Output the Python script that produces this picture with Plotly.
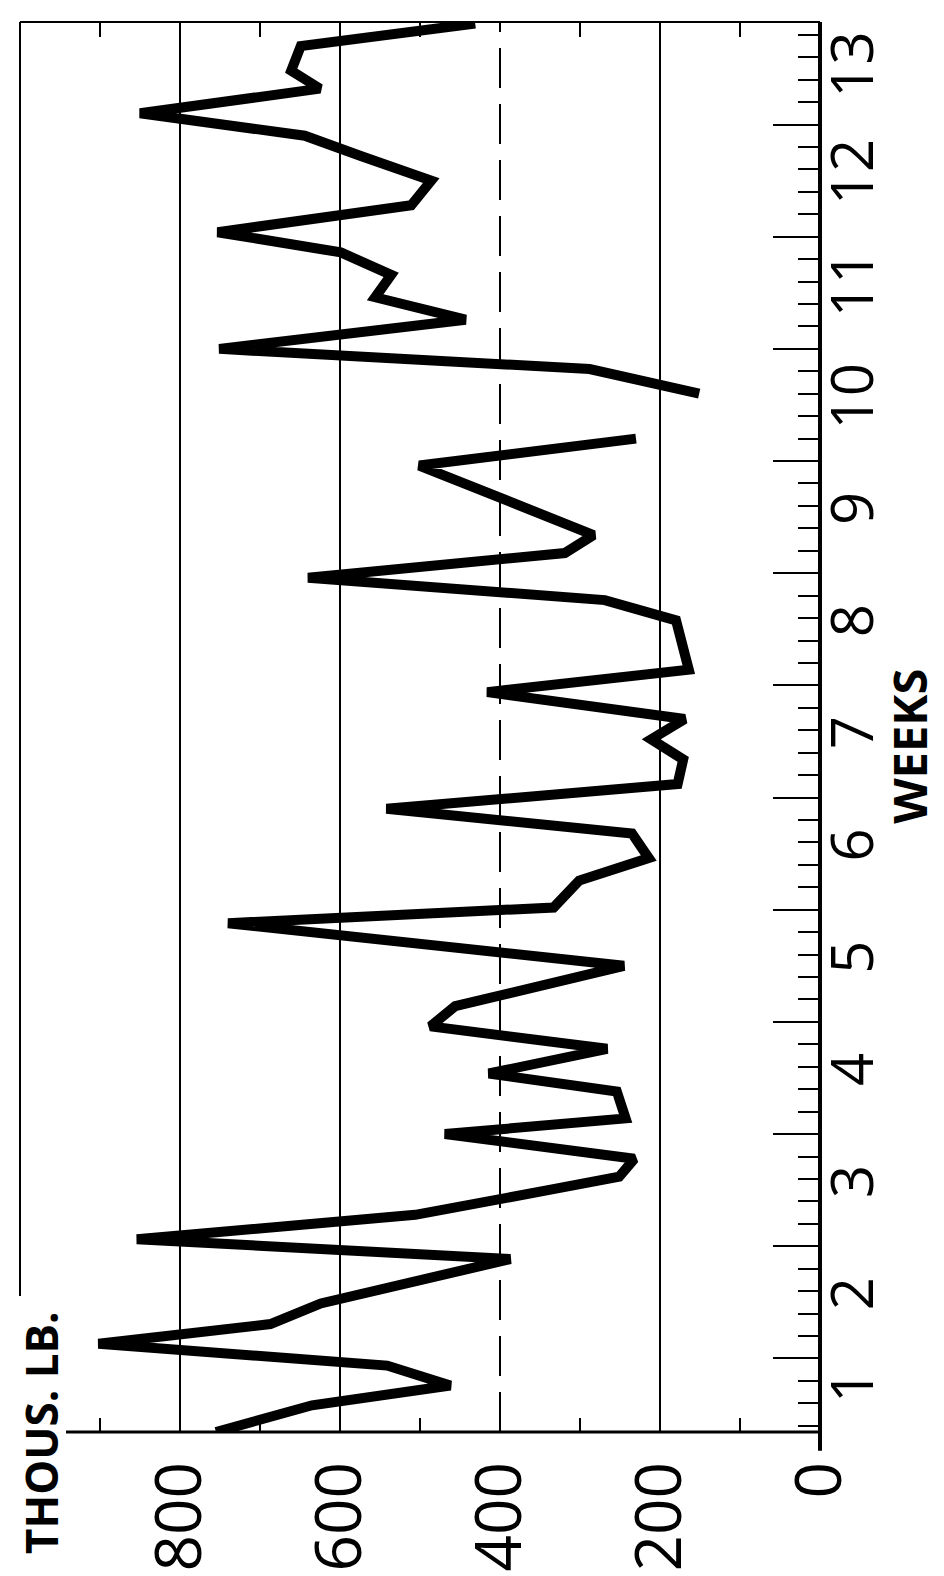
import plotly.graph_objects as go

# ---- data ----
# position along the time axis in working days (5 per week); None = gap in record
day = [1.72, 2.91, 3.79, 4.68, 5.65, 6.53, 7.45, 9.43, 10.31, 11.40, 12.5, 13.1, 13.9,
       15.0, 15.7, 16.9, 17.7, 18.8, 19.8, 20.7, 22.5, 24.4, 25.1, 26.3, 27.3, 28.4,
       29.5, 30.6, 31.7, 32.6, 33.5, 34.7, 35.7, 37.9, 38.8, 39.8, 40.9, 41.7, 44.8,
       46.0, 47.0, 48.0, 49.1, 50.0, 51.3, 52.3, 53.3, 54.3, 55.2, 56.4, 57.5, 58.6,
       59.5, 60.5, 61.6, 62.4, 63.5, 64.5]
thous_lb = [755, 635, 462, 541, 902, 687, 624, 387, 854, 506, 340, 251, 232,
            469, 243, 254, 414, 266, 487, 456, 245, 740, 333, 301, 214, 235,
            542, 178, 171, 211, 169, 416, 164, 180, 269, 640, 319, 283, 501,
            230, None, 151, 288, 751, 443, 556, 536, 599, 753, 511, 486, 574,
            644, 850, 625, 661, 649, 431]

value_ticks = [0, 200, 400, 600, 800]
value_labels = ["0", "200", "400", "600", "800"]
value_minor = [100, 300, 500, 700, 900]
grid_solid = [200, 600, 800]
grid_dashed = [400]

weeks = list(range(1, 14))
week_labels = [str(w) for w in weeks]
DAY_MIN, DAY_MAX = 1.72, 64.57
VAL_MAX = 1000

week_pos = []
for w in weeks:
    lo = max(5 * (w - 1), DAY_MIN)
    hi = min(5 * w, DAY_MAX)
    week_pos.append((lo + hi) / 2)

FONT = "Open Sans"

fig = go.Figure()
fig.add_trace(go.Scatter(
    x=thous_lb, y=day, mode="lines",
    line=dict(color="black", width=10),
    connectgaps=False, showlegend=False, hoverinfo="skip", cliponaxis=True))
# helper traces so the overlay axes are drawn
fig.add_trace(go.Scatter(x=[None], y=[None], xaxis="x2", yaxis="y", showlegend=False))
fig.add_trace(go.Scatter(x=[None], y=[None], xaxis="x3", yaxis="y", showlegend=False))
fig.add_trace(go.Scatter(x=[None], y=[None], xaxis="x", yaxis="y2", showlegend=False))
fig.add_trace(go.Scatter(x=[None], y=[None], xaxis="x", yaxis="y3", showlegend=False))

W, H = 944, 1576
L, R, T, B = 12, 812, 14, 1434

common_x = dict(range=[VAL_MAX, 0], showgrid=False, zeroline=False, showline=False)
common_y = dict(range=[DAY_MIN, DAY_MAX], showgrid=False, zeroline=False, showline=False)

fig.update_layout(
    width=W, height=H,
    margin=dict(l=L, r=W - R, t=T, b=H - B, pad=0),
    paper_bgcolor="white", plot_bgcolor="white",
    font=dict(family=FONT, color="black"),
    xaxis=dict(**common_x, tickmode="array", tickvals=value_ticks, ticktext=value_labels,
               tickangle=-90, ticks="", tickfont=dict(size=64, family=FONT),
               ticklabelstandoff=16, anchor="y", side="bottom"),
    xaxis2=dict(**common_x, overlaying="x", matches="x", side="top", anchor="y",
                tickmode="array", tickvals=value_minor, ticks="inside", ticklen=15,
                tickwidth=2, tickcolor="black", showticklabels=False),
    xaxis3=dict(**common_x, overlaying="x", matches="x", side="bottom", anchor="y",
                tickmode="array", tickvals=value_minor, ticks="inside", ticklen=14,
                tickwidth=2, tickcolor="black", showticklabels=False),
    yaxis=dict(**common_y, side="right", anchor="x", tickmode="array", tickvals=week_pos,
               ticktext=week_labels, ticks="", tickangle=-90,
               tickfont=dict(size=58, family=FONT), ticklabelstandoff=-6),
    yaxis2=dict(**common_y, overlaying="y", matches="y", side="right", anchor="x",
                tickmode="linear", tick0=0, dtick=5, ticks="inside", ticklen=47,
                tickwidth=2, tickcolor="black", showticklabels=False),
    yaxis3=dict(**common_y, overlaying="y", matches="y", side="right", anchor="x",
                tickmode="linear", tick0=0, dtick=1, ticks="inside", ticklen=22,
                tickwidth=2, tickcolor="black", showticklabels=False),
)

shapes = []
for v in grid_solid:
    shapes.append(dict(type="line", xref="x", yref="y domain", x0=v, x1=v, y0=0, y1=1,
                       line=dict(color="black", width=2), layer="below"))
for v in grid_dashed:
    shapes.append(dict(type="line", xref="x", yref="y domain", x0=v, x1=v, y0=0, y1=1,
                       line=dict(color="black", width=2, dash="40px,16px"), layer="below"))
ph = B - T
pw = R - L
# frame
shapes.append(dict(type="line", xref="x domain", yref="y domain", x0=0, x1=1, y0=1, y1=1,
                   line=dict(color="black", width=2)))
shapes.append(dict(type="line", xref="x domain", yref="y domain", x0=0, x1=0,
                   y0=(B - 1297) / ph, y1=1, line=dict(color="black", width=2)))
shapes.append(dict(type="line", xref="x domain", yref="y domain", x0=(58 - L) / pw, x1=1,
                   y0=0, y1=0, line=dict(color="black", width=3)))
shapes.append(dict(type="line", xref="x domain", yref="y domain", x0=1, x1=1,
                   y0=-(1453 - B) / ph, y1=1, line=dict(color="black", width=4)))
fig.update_layout(shapes=shapes)

fig.add_annotation(text="<b>WEEKS</b>", xref="paper", yref="paper",
                   x=(901 - L) / pw, y=(B - 744) / ph, showarrow=False, textangle=-90,
                   font=dict(size=47, family=FONT, color="black"),
                   xanchor="center", yanchor="middle")
fig.add_annotation(text="<b>THOUS. LB.</b>", xref="paper", yref="paper",
                   x=(33 - L) / pw, y=(B - 1435) / ph, showarrow=False, textangle=-90,
                   font=dict(size=44, family=FONT, color="black"),
                   xanchor="center", yanchor="middle")

fig.write_html("out.html")
